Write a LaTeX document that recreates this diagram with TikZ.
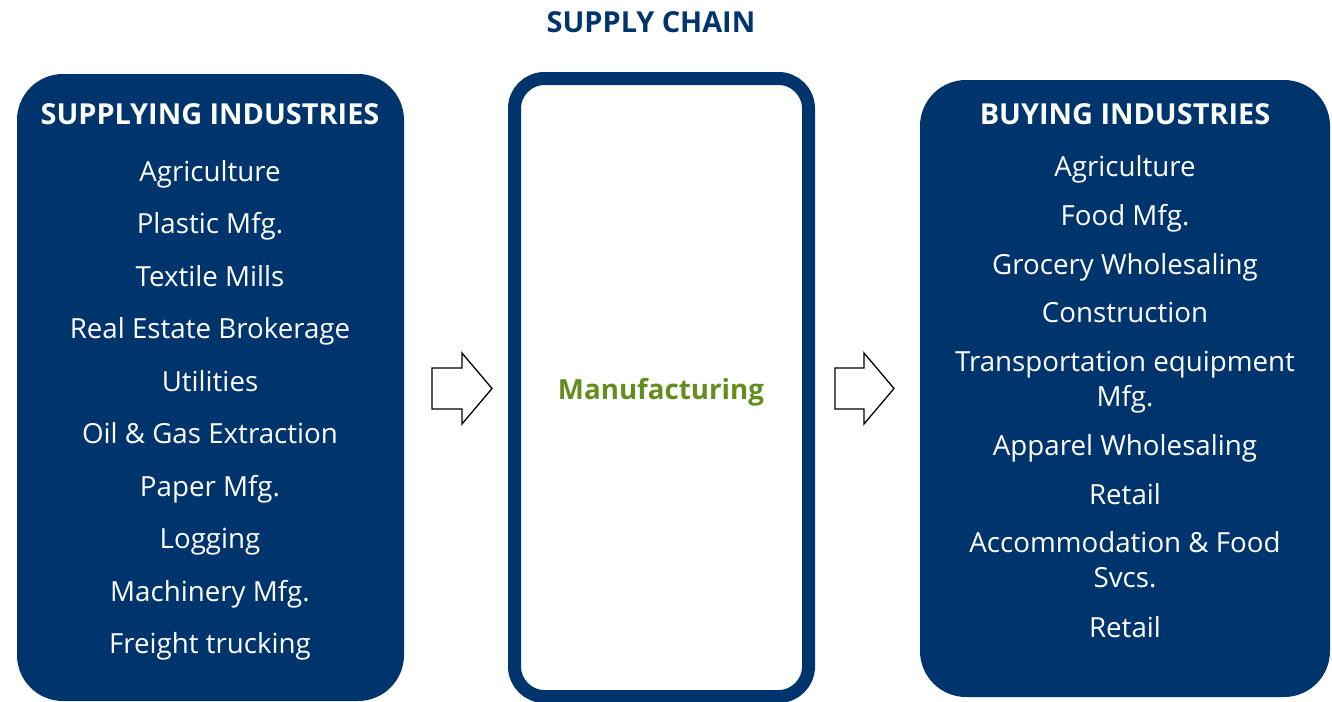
\documentclass[tikz,border=0pt]{standalone}
\usepackage{fontspec}
\setmainfont{Open Sans}
\definecolor{navy}{RGB}{0,52,108}
\definecolor{mfggreen}{RGB}{100,140,30}
\begin{document}
\begin{tikzpicture}[x=1pt,y=-1pt,
  panel/.style={fill=navy, rounded corners=46pt, inner sep=0pt, outer sep=0pt},
  item/.style={anchor=base, text=white, font=\fontsize{27.7}{33}\selectfont, inner sep=0pt},
  head/.style={anchor=base, text=white, font=\bfseries\fontsize{28.9}{33}\selectfont, inner sep=0pt},
  blockarrow/.style={draw=black, line width=1.3pt, fill=white, line join=miter}]
\path[use as bounding box] (0,0) rectangle (1332,701);

\node[anchor=base, text=navy, font=\bfseries\fontsize{28.9}{33}\selectfont, inner sep=0pt] (title) at (651,33) {SUPPLY CHAIN};

% left panel
\node[panel, minimum width=387pt, minimum height=627pt] (sup) at (210.5,387.5) {};
\node[head] (suph) at (210,124) {SUPPLYING INDUSTRIES};
\foreach \t [count=\i] in {Agriculture, Plastic Mfg., Textile Mills, Real Estate Brokerage, Utilities, Oil \& Gas Extraction, Paper Mfg., Logging, Machinery Mfg., Freight trucking}
  \node[item] (s\i) at (210,128.5+52.5*\i) {\t};

% middle panel
\node[draw=navy, line width=13pt, rounded corners=30pt, minimum width=294pt, minimum height=618pt, inner sep=0pt, outer sep=0pt] (mfg) at (661.5,387.5) {};
\node[anchor=base, text=mfggreen, font=\bfseries\fontsize{27.7}{33}\selectfont, inner sep=0pt] (mfgt) at (661,399) {Manufacturing};

% right panel
\node[panel, minimum width=410pt, minimum height=617pt] (buy) at (1125,388.5) {};
\node[head] (buyh) at (1125,124) {BUYING INDUSTRIES};
\node[item] (b1) at (1125,176) {Agriculture};
\node[item] (b2) at (1125,225) {Food Mfg.};
\node[item] (b3) at (1125,274) {Grocery Wholesaling};
\node[item] (b4) at (1125,322) {Construction};
\node[item] (b5) at (1125,371) {Transportation equipment};
\node[item] (b5b) at (1125,406) {Mfg.};
\node[item] (b6) at (1125,455) {Apparel Wholesaling};
\node[item] (b7) at (1125,504) {Retail};
\node[item] (b8) at (1125,552) {Accommodation \& Food};
\node[item] (b8b) at (1125,587) {Svcs.};
\node[item] (b9) at (1125,637) {Retail};

% block arrows
\draw[blockarrow] (432,368) -- (462,368) -- (462,353) -- (492,388.5) -- (462,424) -- (462,409) -- (432,409) -- cycle;
\draw[blockarrow] (835,368) -- (864,368) -- (864,353) -- (894,388.5) -- (864,424) -- (864,409) -- (835,409) -- cycle;
\end{tikzpicture}
\end{document}
